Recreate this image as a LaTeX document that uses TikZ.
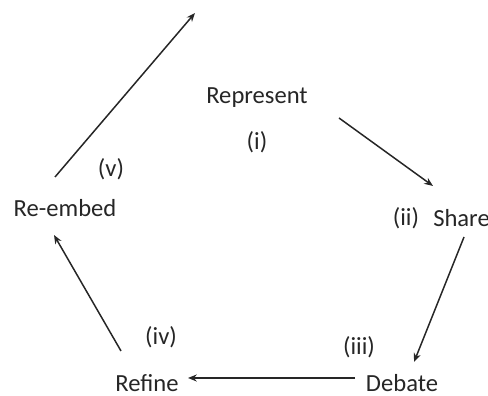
\documentclass[tikz,border=0pt]{standalone}
\usepackage{fontspec}
\setmainfont{Carlito}
\usetikzlibrary{arrows.meta}
\tikzset{
  stage/.style={font=\fontsize{14}{17}\selectfont,text=black!85,inner sep=0pt},
  arr/.style={-{Stealth[length=5pt,width=4pt]},line width=0.85pt,black!85}
}
\begin{document}
\begin{tikzpicture}[every node/.style={stage}]
\useasboundingbox (0,0) rectangle (9.76,7.92);
% stages
\node (rep) at (5.14,5.96) {Represent};
\node (share) at (9.23,3.56) {Share};
\node (deb) at (8.04,0.26) {Debate};
\node (ref) at (2.94,0.26) {Refine};
\node (reemb) at (1.30,3.76) {Re-embed};
% numbers
\node (n1) at (5.14,5.08) {(i)};
\node (n2) at (8.12,3.56) {(ii)};
\node (n3) at (7.18,0.98) {(iii)};
\node (n4) at (3.22,1.18) {(iv)};
\node (n5) at (2.22,4.54) {(v)};
\coordinate (top) at (3.90,7.66);
% arrows
\draw[arr] ([shift={(1.64,-0.40)}]rep.center) -- ([shift={(-0.57,0.64)}]share.center);
\draw[arr] ([shift={(0.05,-0.38)}]share.center) -- ([shift={(0.24,0.42)}]deb.center);
\draw[arr] ([shift={(-0.94,0.10)}]deb.center) -- ([shift={(0.82,0.10)}]ref.center);
\draw[arr] ([shift={(-0.52,0.64)}]ref.center) -- ([shift={(-0.22,-0.54)}]reemb.center);
\draw[arr] ([shift={(-0.20,0.62)}]reemb.center) -- (top);
\end{tikzpicture}
\end{document}
